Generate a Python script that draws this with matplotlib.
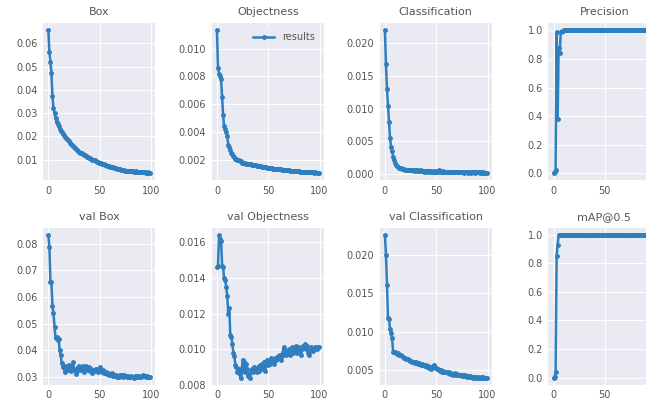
import numpy as np
import matplotlib
matplotlib.use('Agg')
import matplotlib.pyplot as plt

# Training curves (epochs 0..99)
epochs = np.arange(100)

box = [0.0655, 0.0563, 0.0520, 0.0473, 0.0372, 0.0322, 0.0300, 0.0278, 0.0262, 0.0252,
       0.0243, 0.0234, 0.0225, 0.0218, 0.0212, 0.0205, 0.0199, 0.0194, 0.0190, 0.0184,
       0.0179, 0.0172, 0.0168, 0.0163, 0.0158, 0.0155, 0.0149, 0.0146, 0.0142, 0.0138,
       0.0134, 0.0131, 0.0128, 0.0127, 0.0123, 0.0121, 0.0120, 0.0117, 0.0114, 0.0112,
       0.0108, 0.0106, 0.0104, 0.0101, 0.0099, 0.0097, 0.0094, 0.0092, 0.0090, 0.0088,
       0.0086, 0.0085, 0.0083, 0.0081, 0.0080, 0.0079, 0.0077, 0.0075, 0.0074, 0.0072,
       0.0071, 0.0070, 0.0068, 0.0067, 0.0066, 0.0064, 0.0063, 0.0062, 0.0061, 0.0060,
       0.0059, 0.0058, 0.0057, 0.0056, 0.0055, 0.0054, 0.0054, 0.0053, 0.0052, 0.0052,
       0.0051, 0.0050, 0.0050, 0.0049, 0.0049, 0.0050, 0.0048, 0.0048, 0.0049, 0.0047,
       0.0047, 0.0048, 0.0046, 0.0046, 0.0047, 0.0045, 0.0045, 0.0046, 0.0044, 0.0044]

objectness = [0.0113, 0.0086, 0.0082, 0.0080, 0.0078, 0.0065, 0.0052, 0.0044, 0.0042, 0.0040,
              0.0037, 0.0031, 0.0029, 0.0027, 0.0025, 0.0024, 0.0023, 0.0022, 0.0021, 0.0021,
              0.0020, 0.0020, 0.0019, 0.0019, 0.0018, 0.0018, 0.0018, 0.0018, 0.0017, 0.0017,
              0.00172, 0.00170, 0.00169, 0.00168, 0.00166, 0.00165, 0.00163, 0.00162, 0.00160, 0.00159,
              0.00157, 0.00156, 0.00155, 0.00153, 0.00152, 0.00150, 0.00149, 0.00148, 0.00147, 0.00145,
              0.00144, 0.00143, 0.00142, 0.00140, 0.00139, 0.00138, 0.00137, 0.00136, 0.00135, 0.00134,
              0.00133, 0.00132, 0.00131, 0.00130, 0.00129, 0.00128, 0.00127, 0.00126, 0.00126, 0.00125,
              0.00124, 0.00123, 0.00122, 0.00122, 0.00121, 0.00120, 0.00120, 0.00119, 0.00118, 0.00118,
              0.00117, 0.00116, 0.00116, 0.00115, 0.00115, 0.00114, 0.00114, 0.00113, 0.00113, 0.00112,
              0.00112, 0.00111, 0.00111, 0.00110, 0.00111, 0.00109, 0.00110, 0.00108, 0.00109, 0.00107]

classification = [0.0220, 0.0168, 0.0130, 0.0105, 0.0080, 0.0055, 0.0042, 0.0035, 0.0027, 0.0021,
                  0.0017, 0.0014, 0.0012, 0.0011, 0.0010, 0.0009, 0.0009, 0.0008, 0.0008, 0.0008,
                  0.0007, 0.0007, 0.0007, 0.0006, 0.0007, 0.0006, 0.0006, 0.0006, 0.0005, 0.0006,
                  0.0006, 0.0005, 0.0006, 0.0005, 0.0005, 0.0006, 0.0005, 0.0005, 0.0004, 0.0005,
                  0.0005, 0.0004, 0.0005, 0.0005, 0.0004, 0.0005, 0.0004, 0.0004, 0.0005, 0.0004,
                  0.0004, 0.0005, 0.0004, 0.0006, 0.0005, 0.0004, 0.0004, 0.0005, 0.0004, 0.0004,
                  0.0004, 0.0003, 0.0004, 0.0004, 0.0003, 0.0004, 0.0003, 0.0004, 0.0003, 0.0003,
                  0.0004, 0.0003, 0.0003, 0.0003, 0.0004, 0.0003, 0.0003, 0.0002, 0.0003, 0.0003,
                  0.0003, 0.0002, 0.0003, 0.0003, 0.0002, 0.0003, 0.0004, 0.0003, 0.0002, 0.0003,
                  0.0004, 0.0003, 0.0003, 0.0002, 0.0003, 0.0002, 0.0003, 0.0002, 0.0002, 0.0002]

precision = [0.003, 0.010, 0.020, 0.990, 0.380, 0.880, 0.840, 0.990, 0.995, 0.996,
             1.0, 1.0, 1.0, 1.0, 1.0, 1.0, 1.0, 1.0, 1.0, 1.0,
             1.0, 1.0, 1.0, 1.0, 1.0, 1.0, 1.0, 1.0, 1.0, 1.0,
             1.0, 1.0, 1.0, 1.0, 1.0, 1.0, 1.0, 1.0, 1.0, 1.0,
             1.0, 1.0, 1.0, 1.0, 1.0, 1.0, 1.0, 1.0, 1.0, 1.0,
             1.0, 1.0, 1.0, 1.0, 1.0, 1.0, 1.0, 1.0, 1.0, 1.0,
             1.0, 1.0, 1.0, 1.0, 1.0, 1.0, 1.0, 1.0, 1.0, 1.0,
             1.0, 1.0, 1.0, 1.0, 1.0, 1.0, 1.0, 1.0, 1.0, 1.0,
             1.0, 1.0, 1.0, 1.0, 1.0, 1.0, 1.0, 1.0, 1.0, 1.0,
             1.0, 1.0, 1.0, 1.0, 1.0, 1.0, 1.0, 1.0, 1.0, 1.0]

val_box = [0.0832, 0.0790, 0.0658, 0.0655, 0.0565, 0.0538, 0.0488, 0.0444, 0.0450, 0.0437,
           0.0443, 0.0400, 0.0380, 0.0352, 0.0335, 0.0342, 0.0316, 0.0330, 0.0340, 0.0325,
           0.0345, 0.0330, 0.0320, 0.0335, 0.0355, 0.0330, 0.0325, 0.0310, 0.0320, 0.0335,
           0.0342, 0.0338, 0.0325, 0.0330, 0.0340, 0.0318, 0.0335, 0.0340, 0.0330, 0.0325,
           0.0335, 0.0320, 0.0330, 0.0315, 0.0325, 0.0320, 0.0330, 0.0322, 0.0318, 0.0325,
           0.0335, 0.0320, 0.0318, 0.0325, 0.0315, 0.0312, 0.0318, 0.0310, 0.0315, 0.0308,
           0.0310, 0.0306, 0.0312, 0.0304, 0.0308, 0.0302, 0.0305, 0.0300, 0.0303, 0.0300,
           0.0308, 0.0302, 0.0305, 0.0300, 0.0306, 0.0301, 0.0304, 0.0299, 0.0303, 0.0300,
           0.0298, 0.0302, 0.0300, 0.0296, 0.0301, 0.0299, 0.0303, 0.0298, 0.0302, 0.0300,
           0.0299, 0.0303, 0.0306, 0.0301, 0.0304, 0.0300, 0.0302, 0.0299, 0.0298, 0.0297]

val_objectness = [0.0146, 0.0147, 0.0164, 0.0162, 0.0161, 0.0147, 0.0146, 0.0140, 0.0139, 0.0135,
                  0.0130, 0.0120, 0.0123, 0.0108, 0.0107, 0.0103, 0.0098, 0.0096, 0.0091, 0.0090,
                  0.0087, 0.0089, 0.0086, 0.0084, 0.0088, 0.0094, 0.0093, 0.0087, 0.0092, 0.0089,
                  0.0085, 0.0086, 0.0084, 0.0088, 0.0089, 0.0087, 0.0090, 0.0088, 0.0089, 0.0087,
                  0.0090, 0.0088, 0.0091, 0.0089, 0.0092, 0.0090, 0.0093, 0.0088, 0.0092, 0.0094,
                  0.0091, 0.0093, 0.0092, 0.0095, 0.0093, 0.0094, 0.0092, 0.0095, 0.0094, 0.0096,
                  0.0095, 0.0097, 0.0094, 0.0096, 0.0098, 0.0101, 0.0099, 0.0097, 0.0099, 0.0098,
                  0.0100, 0.0097, 0.0099, 0.0101, 0.0098, 0.0100, 0.0099, 0.0102, 0.0098, 0.0100,
                  0.0101, 0.0099, 0.0097, 0.0100, 0.0102, 0.0101, 0.0103, 0.0100, 0.0102, 0.0098,
                  0.0097, 0.0099, 0.0101, 0.0100, 0.0099, 0.0100, 0.0101, 0.0100, 0.0101, 0.0101]

val_classification = [0.0225, 0.0200, 0.0160, 0.0117, 0.0116, 0.0103, 0.0098, 0.0091, 0.0074, 0.0073,
                      0.0073, 0.0072, 0.0071, 0.0072, 0.0070, 0.0069, 0.0070, 0.0068, 0.0067, 0.0066,
                      0.0066, 0.0064, 0.0065, 0.0063, 0.0062, 0.0062, 0.0061, 0.0060, 0.0061, 0.0059,
                      0.0060, 0.0059, 0.0058, 0.0059, 0.0058, 0.0057, 0.0058, 0.0056, 0.0057, 0.0055,
                      0.0056, 0.0054, 0.0055, 0.0053, 0.0054, 0.0052, 0.0053, 0.0055, 0.0056, 0.0054,
                      0.0053, 0.0051, 0.0052, 0.0050, 0.0049, 0.0050, 0.0048, 0.0049, 0.0047, 0.0048,
                      0.0047, 0.0046, 0.0047, 0.0045, 0.0046, 0.0045, 0.0044, 0.0045, 0.0046, 0.0044,
                      0.0045, 0.0044, 0.0043, 0.0044, 0.0043, 0.0042, 0.0043, 0.0042, 0.0043, 0.0042,
                      0.0041, 0.0042, 0.0041, 0.0042, 0.0041, 0.0041, 0.0040, 0.0041, 0.0040, 0.0041,
                      0.0040, 0.0041, 0.0040, 0.0040, 0.0041, 0.0040, 0.0041, 0.0040, 0.0040, 0.0040]

map05 = [0.000, 0.005, 0.040, 0.850, 0.930, 0.995, 0.995, 0.995, 0.995, 0.995,
         0.995, 0.995, 0.995, 0.995, 0.995, 0.995, 0.995, 0.995, 0.995, 0.995,
         0.995, 0.995, 0.995, 0.995, 0.995, 0.995, 0.995, 0.995, 0.995, 0.995,
         0.995, 0.995, 0.995, 0.995, 0.995, 0.995, 0.995, 0.995, 0.995, 0.995,
         0.995, 0.995, 0.995, 0.995, 0.995, 0.995, 0.995, 0.995, 0.995, 0.995,
         0.995, 0.995, 0.995, 0.995, 0.995, 0.995, 0.995, 0.995, 0.995, 0.995,
         0.995, 0.995, 0.995, 0.995, 0.995, 0.995, 0.995, 0.995, 0.995, 0.995,
         0.995, 0.995, 0.995, 0.995, 0.995, 0.995, 0.995, 0.995, 0.995, 0.995,
         0.995, 0.995, 0.995, 0.995, 0.995, 0.995, 0.995, 0.995, 0.995, 0.995,
         0.995, 0.995, 0.995, 0.995, 0.995, 0.995, 0.995, 0.995, 0.995, 0.995]

titles = ['Box', 'Objectness', 'Classification', 'Precision',
          'val Box', 'val Objectness', 'val Classification', 'mAP@0.5']
series = [box, objectness, classification, precision,
          val_box, val_objectness, val_classification, map05]

fig = plt.figure(figsize=(6.46, 4.09), dpi=100)
fig.patch.set_facecolor('white')

# the right-most column runs off the edge of the picture, as in the source
lefts = [0.067, 0.328, 0.588, 0.849]
bottoms = [0.56, 0.059]
w, h = 0.173, 0.383

for i, (t, s) in enumerate(zip(titles, series)):
    ax = fig.add_axes([lefts[i % 4], bottoms[i // 4], w, h])
    ax.set_facecolor('#EAEAF2')
    ax.grid(True, color='white', linewidth=0.7)
    ax.set_axisbelow(True)
    for sp in ax.spines.values():
        sp.set_visible(False)
    ax.plot(epochs, s, marker='.', linewidth=1.8, markersize=5,
            color='#2f7fbf', label='results')
    ax.set_title(t, fontsize=8, color='#555555', pad=6)
    ax.tick_params(length=0, labelsize=7, labelcolor='#555555', pad=4)
    ax.set_xticks([0, 50, 100])
    if t == 'Objectness':
        leg = ax.legend(fontsize=7, loc='upper right', frameon=True,
                        handlelength=2.2, borderpad=0.4)
        leg.get_frame().set_facecolor('#EAEAF2')
        leg.get_frame().set_edgecolor('#EAEAF2')
        for txt in leg.get_texts():
            txt.set_color('#555555')

fig.savefig('out.png', dpi=100)
